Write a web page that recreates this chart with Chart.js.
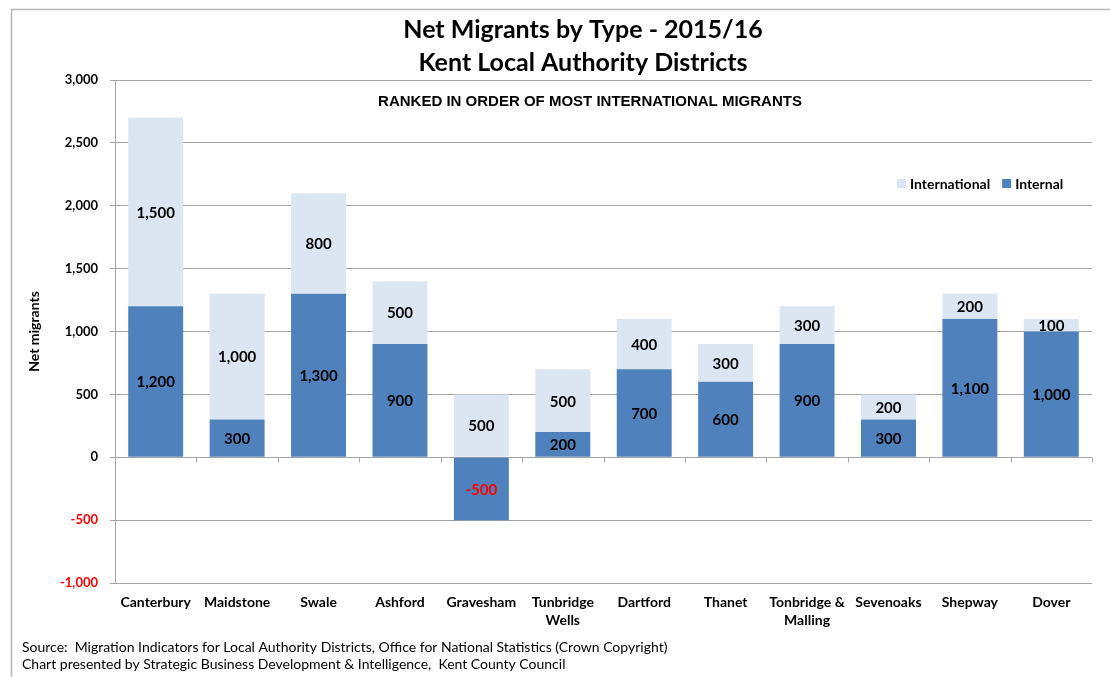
<!DOCTYPE html>
<html>
<head>
<meta charset="utf-8">
<script src="https://cdn.jsdelivr.net/npm/chart.js@4/dist/chart.umd.min.js"></script>
<style>
  html, body { margin: 0; padding: 0; background: #fff; }
  #wrap { position: relative; width: 1110px; height: 677px; }
</style>
</head>
<body>
<div id="wrap"><canvas id="c" width="1110" height="677"></canvas></div>
<script>
const categories = ["Canterbury", "Maidstone", "Swale", "Ashford", "Gravesham", ["Tunbridge", "Wells"], "Dartford", "Thanet", ["Tonbridge &", "Malling"], "Sevenoaks", "Shepway", "Dover"];
const internalValues = [1200, 300, 1300, 900, -500, 200, 700, 600, 900, 300, 1100, 1000];
const internationalValues = [1500, 1000, 800, 500, 500, 500, 400, 300, 300, 200, 200, 100];
const titleLines = ["Net Migrants by Type - 2015/16", "Kent Local Authority Districts"];
const subtitleText = "RANKED IN ORDER OF MOST INTERNATIONAL MIGRANTS";
const yAxisTitle = "Net migrants";
const footerLines = [
  "Source:  Migration Indicators for Local Authority Districts, Office for National Statistics (Crown Copyright)",
  "Chart presented by Strategic Business Development & Intelligence,  Kent County Council"
];
const legendOrder = ["International", "Internal"];

const CAL = "Lato, 'Open Sans', sans-serif";
const ARIAL = "'Liberation Sans', Arial, sans-serif";
const GRID = "#a3a3a3";

function fmt(v) {
  const s = Math.abs(v).toString().replace(/\B(?=(\d{3})+(?!\d))/g, ",");
  return (v < 0 ? "-" : "") + s;
}

const decor = {
  id: "decor",
  beforeDraw(chart) {
    const ctx = chart.ctx;
    ctx.save();
    ctx.fillStyle = "#fff";
    ctx.fillRect(0, 0, chart.width, chart.height);
    ctx.strokeStyle = "#b5b5b5";
    ctx.lineWidth = 1.5;
    ctx.beginPath();
    ctx.moveTo(11.5, chart.height);
    ctx.lineTo(11.5, 9.5);
    ctx.lineTo(chart.width, 9.5);
    ctx.stroke();
    ctx.restore();
  },
  afterDraw(chart) {
    const ctx = chart.ctx;
    const area = chart.chartArea;
    const xs = chart.scales.x, ys = chart.scales.y;
    ctx.save();
    ctx.fillStyle = "#000";
    ctx.textAlign = "center";
    ctx.textBaseline = "middle";
    ctx.font = "bold 25px " + CAL;
    ctx.fillText(titleLines[0], 583, 30);
    ctx.fillText(titleLines[1], 583, 63);
    ctx.font = "bold 15px " + ARIAL;
    ctx.fillText(subtitleText, 590, 102);
    const y0 = Math.round(ys.getPixelForValue(0)) + 0.5;
    ctx.strokeStyle = GRID;
    ctx.lineWidth = 1;
    ctx.beginPath();
    for (let i = 0; i <= categories.length; i++) {
      const x = Math.round(xs.getPixelForValue(i - 0.5)) + 0.5;
      ctx.moveTo(x, y0);
      ctx.lineTo(x, y0 + 5);
    }
    ctx.stroke();
    ctx.font = "bold 14px " + CAL;
    ctx.textAlign = "left";
    let lx = 897;
    const ly = 184;
    legendOrder.forEach(name => {
      const ds = chart.data.datasets.find(d => d.label === name);
      ctx.fillStyle = ds.backgroundColor;
      ctx.fillRect(lx, ly - 5, 9, 9);
      ctx.fillStyle = "#000";
      ctx.fillText(name, lx + 13, ly);
      lx += 13 + ctx.measureText(name).width + 12;
    });
    ctx.font = "14px " + CAL;
    ctx.fillText(footerLines[0], 22, 647);
    ctx.fillText(footerLines[1], 22, 664);
    ctx.restore();
  },
  afterDatasetsDraw(chart) {
    const ctx = chart.ctx;
    ctx.save();
    ctx.font = "bold 15px " + CAL;
    ctx.textAlign = "center";
    ctx.textBaseline = "middle";
    chart.data.datasets.forEach((ds, di) => {
      const meta = chart.getDatasetMeta(di);
      meta.data.forEach((bar, i) => {
        const v = ds.data[i];
        const props = bar.getProps(["x", "y", "base"], true);
        ctx.fillStyle = v < 0 ? "#ff0000" : "#000";
        ctx.fillText(fmt(v), props.x, (props.y + props.base) / 2 + 1);
      });
    });
    ctx.restore();
  }
};

new Chart(document.getElementById("c"), {
  type: "bar",
  data: {
    labels: categories,
    datasets: [
      { label: "Internal", data: internalValues, backgroundColor: "#4f81bd", stack: "s",
        categoryPercentage: 1, barPercentage: 0.675 },
      { label: "International", data: internationalValues, backgroundColor: "#dce6f2", stack: "s",
        categoryPercentage: 1, barPercentage: 0.675 }
    ]
  },
  options: {
    responsive: false,
    animation: false,
    devicePixelRatio: 1,
    layout: { padding: { top: 80, right: 18, left: 0, bottom: 0 } },
    plugins: {
      legend: { display: false },
      title: { display: false },
      tooltip: { enabled: false }
    },
    scales: {
      x: {
        stacked: true,
        grid: { display: false, drawTicks: false },
        border: { display: false },
        ticks: {
          color: "#000",
          padding: 11,
          maxRotation: 0,
          autoSkip: false,
          font: { family: CAL, size: 14, weight: "bold", lineHeight: 1.25 }
        },
        afterFit(scale) { scale.height = 94; }
      },
      y: {
        stacked: true,
        min: -1000,
        max: 3000,
        grid: { color: GRID, lineWidth: 1, tickLength: 5 },
        border: { display: true, color: GRID, width: 1 },
        ticks: {
          stepSize: 500,
          padding: 12,
          font: { family: CAL, size: 13, weight: "bold" },
          color: ctx => (ctx.tick && ctx.tick.value < 0 ? "#ff0000" : "#000"),
          callback: v => fmt(v)
        },
        title: {
          display: true,
          text: yAxisTitle,
          color: "#000",
          font: { family: CAL, size: 14, weight: "bold" },
          padding: { top: 26, bottom: 0 }
        },
        afterFit(scale) { scale.width = 115; }
      }
    }
  },
  plugins: [decor]
});
</script>
</body>
</html>
